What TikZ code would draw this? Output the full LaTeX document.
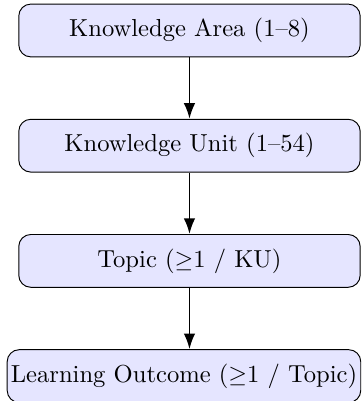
\documentclass[tikz,border=0pt]{standalone}
\usetikzlibrary{positioning,arrows.meta}

\begin{document}
\begin{tikzpicture}[x=1pt,y=1pt,node distance=0.9cm,
    level/.style={draw, rounded corners=5pt, fill=blue!10, minimum width=5cm, minimum height=22pt,
      inner xsep=1.5pt, font=\fontsize{10.25}{12.3}\selectfont},
    link/.style={thick,-{Latex[length=6.5pt,width=4.8pt]}}]
    \useasboundingbox (0,0) rectangle (151.25,167.1);
    % the four levels, top to bottom
    \node[level] (area) at (78.96,154.4) {Knowledge Area (1--8)};
    \node[level, below=of area] (unit) {Knowledge Unit (1--54)};
    \node[level, below=of unit] (topic) {Topic ($\geq$1 / KU)};
    \node[level, below=of topic, xshift=-2.3pt] (outcome) {Learning Outcome ($\geq$1 / Topic)};
    \draw[link] (area) -- (unit);
    \draw[link] (unit) -- (topic);
    \draw[link] (topic) -- (topic |- outcome.north);
\end{tikzpicture}
\end{document}
